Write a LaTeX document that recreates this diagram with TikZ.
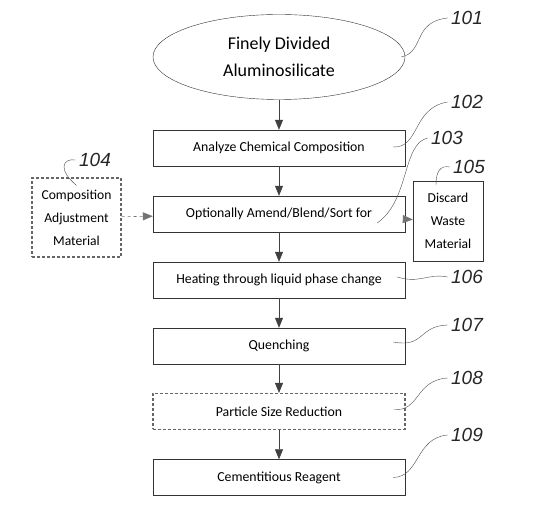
\documentclass[tikz,border=0pt]{standalone}
\usepackage{fontspec}
\setmainfont{Carlito}
\newfontfamily\numfont{Liberation Sans}
\usepackage{tikz}
\usetikzlibrary{shapes.geometric, arrows.meta, positioning}
\tikzstyle{step box} = [rectangle, draw=black!80, minimum width=252pt, minimum height=36pt, text centered, font=\fontsize{13.8}{16}\selectfont]
\tikzstyle{arrow} = [semithick, draw=black!75, -{Triangle[length=10pt,width=8pt]}]

\begin{document}
\begin{tikzpicture}[
        x=1pt, y=-1pt,
        side box/.style={draw=black!80, align=center, font=\fontsize{13.6}{23}\selectfont},
        optional/.style={densely dashed, line width=1.2pt, draw=black!60},
        ref/.style={font=\numfont\itshape\fontsize{19}{19}\selectfont, text=black!85},
        leader/.style={draw=black!70, thin}
    ]
        \useasboundingbox (0,0) rectangle (547,518);

        % Define the process steps vertically
        \node (source) [ellipse, draw=black!80, minimum width=252pt, minimum height=85pt, inner sep=0pt, align=center, font=\fontsize{18}{27}\selectfont] at (279,57) {Finely Divided\\Aluminosilicate};
        \node (analyze) [step box] at (279,148) {Analyze Chemical Composition};
        \node (amend) [step box] at (279,214) {Optionally Amend/Blend/Sort for};
        \node (heating) [step box] at (279,280) {Heating through liquid phase change};
        \node (quench) [step box] at (279,346) {Quenching};
        \node (reduce) [step box, optional] at (279,411.5) {Particle Size Reduction};
        \node (reagent) [step box] at (279,477.5) {Cementitious Reagent};

        % Side boxes
        \node (adjust) [side box, optional, minimum width=89pt, minimum height=79pt, inner sep=1pt] at (76.5,217.5) {Composition\\Adjustment\\Material};
        \node (discard) [side box, minimum width=70pt, minimum height=80pt, inner sep=1pt] at (448,221) {Discard\\Waste\\Material};

        % Add flow arrows
        \draw[arrow] (source) -- (analyze);
        \draw[arrow] (analyze) -- (amend);
        \draw[arrow] (amend) -- (heating);
        \draw[arrow] (heating) -- (quench);
        \draw[arrow] (quench) -- (reduce);
        \draw[arrow] (reduce) -- (reagent);
        \draw[arrow, dashed, draw=black!55] (adjust) -- (amend);
        \draw[arrow, dashed, draw=black!55] (amend) -- (discard);

        % Reference numerals
        \node (n101) [ref] at (467,18) {101};
        \node (n102) [ref] at (467,102) {102};
        \node (n103) [ref] at (447,138) {103};
        \node (n104) [ref] at (95,160) {104};
        \node (n105) [ref] at (469,167) {105};
        \node (n106) [ref] at (467,277) {106};
        \node (n107) [ref] at (467,325) {107};
        \node (n108) [ref] at (467,378) {108};
        \node (n109) [ref] at (467,435) {109};

        % Leader lines
        \draw[leader] ([xshift=-4pt]source.east) .. controls (425,52) and (412,22) .. (n101.west);
        \draw[leader] ([xshift=-12pt,yshift=1pt]analyze.east) .. controls (420,148) and (412,108) .. (n102.west);
        \draw[leader] ([xshift=-28pt,yshift=-9pt]amend.east) .. controls (410,200) and (402,144) .. (n103.west);
        \draw[leader] ([yshift=-8pt]adjust.north) .. controls (58,170) and (62,158) .. (n104.west);
        \draw[leader] ([xshift=-12pt,yshift=-4pt]discard.north) .. controls (436,172) and (440,165) .. (n105.west);
        \draw[leader] ([xshift=-8pt,yshift=3pt]heating.east) .. controls (420,284) and (428,273) .. (n106.west);
        \draw[leader] ([xshift=-12pt,yshift=4pt]quench.east) .. controls (425,348) and (418,326) .. (n107.west);
        \draw[leader] ([xshift=-12pt,yshift=2pt]reduce.east) .. controls (420,412) and (415,380) .. (n108.west);
        \draw[leader] ([xshift=-12pt]reagent.east) .. controls (420,477) and (415,438) .. (n109.west);

    \end{tikzpicture}
\end{document}
